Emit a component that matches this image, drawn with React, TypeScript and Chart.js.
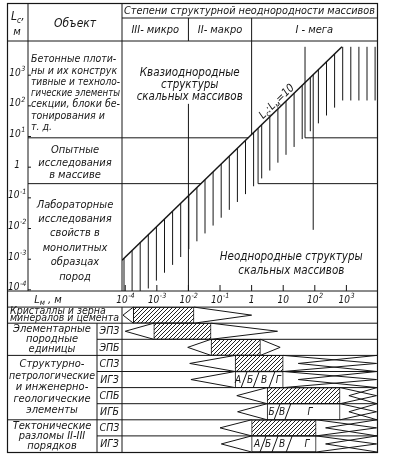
import React, { useEffect, useRef } from 'react';
import { Chart, registerables } from 'chart.js';

Chart.register(...registerables);

const W = 394;
const H = 459;
const FONT = "'DejaVu Sans Condensed', 'Liberation Sans Narrow', 'DejaVu Sans', sans-serif";
const INK = '#161616';

// ---- Lm axis (x) ----
const lmTickValues = [1e-4, 1e-3, 1e-2, 1e-1, 1, 10, 1e2, 1e3];
const lmTickLabels = ['10^-4', '10^-3', '10^-2', '10^-1', '1', '10', '10^2', '10^3'];
const lmMin = 7.9e-5;
const lmMax = 9300;

// ---- Lc axis (y) ----
const lcTickValues = [1e3, 1e2, 1e1, 1, 1e-1, 1e-2, 1e-3, 1e-4];
const lcTickLabels = ['10^3', '10^2', '10^1', '1', '10^-1', '10^-2', '10^-3', '10^-4'];
const lcMin = 7.9e-5;
const lcMax = 11200;

// ---- line Lc : Lm = 10 ----
const diagLm = [7.9e-5, 724];
const diagLc = [7.9e-4, 7240];

// ---- degrees of structural heterogeneity ----
const structureNames = ['III- микро', 'II- макро', 'I - мега'];
const structureBounds = [0.01, 1];

// ---- objects ----
const objectNames = [
  ['Бетонные плоти-', 'ны и их конструк', 'тивные и техноло-', 'гические элементы', 'секции, блоки бе-', 'тонирования и', 'т. д.'],
  ['Опытные', 'исследования', 'в массиве'],
  ['Лабораторные', 'исследования', 'свойств в', 'монолитных', 'образцах', 'пород'],
];
const objectBoundsLc = [7.8, 0.25];

// ---- extra boundary segments (Lm1, Lc1) -> (Lm2, Lc2) ----
const guideLm1 = [49, 49, 1.6, 1.6, 89];
const guideLc1 = [7240, 7.8, 16, 0.25, 890];
const guideLm2 = [49, 9300, 1.6, 9300, 89];
const guideLc2 = [7.8, 7.8, 0.25, 0.25, 0.0078];

// ---- lower table: scale ranges of rock elements ----
const rowKeys = ['Lm', 'crystal', 'EPZ', 'EPB', 'SPZ', 'IGZ', 'SPB', 'IGB', 'SPZt', 'IGZt'];
const rowCodes = ['', '', 'ЭПЗ', 'ЭПБ', 'СПЗ', 'ИГЗ', 'СПБ', 'ИГБ', 'СПЗ', 'ИГЗ'];
const rowGroup = [0, 1, 2, 2, 3, 3, 3, 3, 4, 4];
const groupTexts = [
  [],
  ['Кристаллы и зерна', 'минералов и цемента'],
  ['Элементарные', 'породные', 'единицы'],
  ['Структурно-', 'петрологические', 'и инженерно-', 'геологические', 'элементы'],
  ['Тектонические', 'разломы II-III', 'порядков'],
];
const rangeStart = [null, 1.8e-4, 8e-4, 0.052, 0.3, 0.3, 3.1, 3.1, 1, 1];
const rangeEnd = [null, 0.015, 0.052, 1.9, 10, 10, 630, 630, 110, 110];
const leftApex = [null, 8.5e-5, 1e-4, 0.0095, 0.011, 0.012, 0.34, 0.36, 0.1, 0.11];
const rightApex = [null, 1, 6.6, 8, 9000, 9000, 9000, 9000, 9000, 9000];
const backApex = [null, null, null, null, 30, 30, 1200, 1200, 220, 220];
const hatched = [false, true, true, true, true, false, true, false, true, false];
const segDividers = [[], [], [], [], [], [0.58, 1.4, 4.4], [], [6.4, 14], [], [2.3, 5.5, 15.5]];
const segLetters = [[], [], [], [], [], ['А', 'Б', 'В', 'Г'], [], ['Б', 'В', 'Г'], [], ['А', 'Б', 'В', 'Г']];
const segLetterLm = [[], [], [], [], [], [0.37, 0.9, 2.5, 7], [], [4.3, 9.2, 70], [], [1.5, 3.3, 9.2, 57]];

function makeHatch(): CanvasPattern | string {
  const s = 4;
  const c = document.createElement('canvas');
  c.width = s;
  c.height = s;
  const g = c.getContext('2d');
  if (!g) return '#bbb';
  g.fillStyle = '#fff';
  g.fillRect(0, 0, s, s);
  g.strokeStyle = '#222';
  g.lineWidth = 1;
  g.beginPath();
  g.moveTo(-1, s + 1);
  g.lineTo(s + 1, -1);
  g.moveTo(-1, 1);
  g.lineTo(1, -1);
  g.moveTo(s - 1, s + 1);
  g.lineTo(s + 1, s - 1);
  g.stroke();
  return g.createPattern(c, 'repeat') || '#bbb';
}

function setFont(ctx: CanvasRenderingContext2D, size: number) {
  ctx.font = `italic ${size}px ${FONT}`;
}

function text(ctx: CanvasRenderingContext2D, s: string, x: number, y: number, size: number, align: CanvasTextAlign = 'center', maxW?: number) {
  setFont(ctx, size);
  ctx.textAlign = align;
  ctx.textBaseline = 'middle';
  if (maxW) ctx.fillText(s, x, y, maxW);
  else ctx.fillText(s, x, y);
}

function drawPow(ctx: CanvasRenderingContext2D, label: string, cx: number, cy: number, size: number) {
  const [base, exp] = label.split('^');
  setFont(ctx, size);
  const bw = ctx.measureText(base).width;
  const es = size * 0.72;
  let ew = 0;
  if (exp) {
    setFont(ctx, es);
    ew = ctx.measureText(exp).width;
  }
  const x0 = cx - (bw + ew) / 2;
  ctx.textAlign = 'left';
  ctx.textBaseline = 'middle';
  setFont(ctx, size);
  ctx.fillText(base, x0, cy);
  if (exp) {
    setFont(ctx, es);
    ctx.fillText(exp, x0 + bw + 0.5, cy - size * 0.4);
  }
}

function drawPieces(ctx: CanvasRenderingContext2D, pieces: [string, boolean][], x: number, y: number, size: number, align: 'left' | 'center' = 'left') {
  let total = 0;
  for (const [s, sub] of pieces) {
    setFont(ctx, sub ? size * 0.7 : size);
    total += ctx.measureText(s).width;
  }
  let cx = align === 'center' ? x - total / 2 : x;
  ctx.textAlign = 'left';
  ctx.textBaseline = 'middle';
  for (const [s, sub] of pieces) {
    setFont(ctx, sub ? size * 0.7 : size);
    ctx.fillText(s, cx, sub ? y + size * 0.3 : y);
    cx += ctx.measureText(s).width;
  }
}

const lg = Math.log10;

function diagLcAt(lm: number) {
  const t = (lg(lm) - lg(diagLm[0])) / (lg(diagLm[1]) - lg(diagLm[0]));
  return Math.pow(10, lg(diagLc[0]) + t * (lg(diagLc[1]) - lg(diagLc[0])));
}
function diagLmAt(lc: number) {
  const t = (lg(lc) - lg(diagLc[0])) / (lg(diagLc[1]) - lg(diagLc[0]));
  return Math.pow(10, lg(diagLm[0]) + t * (lg(diagLm[1]) - lg(diagLm[0])));
}

const tablePlugin = {
  id: 'rockTable',
  beforeDatasetsDraw(chart: any) {
    const ctx: CanvasRenderingContext2D = chart.ctx;
    const xs = chart.scales.x;
    const yr = chart.scales.yr;
    const ca = chart.chartArea;
    const band = Math.abs(yr.getPixelForValue(1) - yr.getPixelForValue(0));
    ctx.save();
    ctx.beginPath();
    ctx.rect(ca.left, yr.top, ca.right - ca.left, yr.bottom - yr.top);
    ctx.clip();
    ctx.strokeStyle = INK;
    ctx.lineWidth = 1;
    for (let i = 0; i < rowKeys.length; i++) {
      if (rangeStart[i] == null) continue;
      const mid = yr.getPixelForValue(i);
      const top = mid - band / 2;
      const bot = mid + band / 2;
      const xs0 = xs.getPixelForValue(rangeStart[i] as number);
      const xs1 = xs.getPixelForValue(rangeEnd[i] as number);
      const la = leftApex[i];
      if (la != null) {
        ctx.beginPath();
        ctx.moveTo(xs0, top);
        ctx.lineTo(xs.getPixelForValue(la), mid);
        ctx.lineTo(xs0, bot);
        ctx.stroke();
      }
      const ra = rightApex[i];
      if (ra != null) {
        ctx.beginPath();
        ctx.moveTo(xs1, top);
        ctx.lineTo(xs.getPixelForValue(ra), mid);
        ctx.lineTo(xs1, bot);
        ctx.stroke();
      }
      const ba = backApex[i];
      if (ba != null) {
        ctx.beginPath();
        ctx.moveTo(ca.right, top);
        ctx.lineTo(xs.getPixelForValue(ba), mid);
        ctx.lineTo(ca.right, bot);
        ctx.stroke();
      }
    }
    ctx.restore();
  },
  afterDatasetsDraw(chart: any) {
    const ctx: CanvasRenderingContext2D = chart.ctx;
    const xs = chart.scales.x;
    const ys = chart.scales.y;
    const yr = chart.scales.yr;
    const ca = chart.chartArea;
    const band = Math.abs(yr.getPixelForValue(1) - yr.getPixelForValue(0));
    const rowTop = (i: number) => yr.getPixelForValue(i) - band / 2;
    const X = (v: number) => xs.getPixelForValue(v);
    const Y = (v: number) => ys.getPixelForValue(v);

    const L = 7;
    const R = ca.right;
    const T = 3;
    const colLc = 28;
    const colObj = ca.left;
    const colCode = 97;
    const headMid = 18;
    const headBot = ca.top;
    const topBot = ys.bottom;
    const B = ca.bottom;

    ctx.save();
    ctx.strokeStyle = INK;
    ctx.fillStyle = INK;
    ctx.lineWidth = 1;
    const seg = (x1: number, y1: number, x2: number, y2: number) => {
      ctx.beginPath();
      ctx.moveTo(x1, y1);
      ctx.lineTo(x2, y2);
      ctx.stroke();
    };

    // hatch fringe below the Lc:Lm line
    ctx.save();
    ctx.beginPath();
    ctx.rect(ca.left, ys.top, ca.right - ca.left, topBot - ys.top);
    ctx.clip();
    ctx.lineWidth = 1;
    for (let px = ca.left + 2; px < ca.right - 1; px += 8.1) {
      const lm = xs.getValueForPixel(px);
      const lcTop = lm <= diagLm[1] ? diagLcAt(lm) : diagLc[1];
      const y0 = Y(lcTop);
      const y1 = Math.min(Y(lcTop / Math.pow(10, 1.75)), topBot);
      seg(px, y0, px, y1);
    }
    ctx.restore();

    // outer frame
    ctx.lineWidth = 1.2;
    ctx.strokeRect(L + 0.5, T + 0.5, R - L, B - T);
    ctx.lineWidth = 1;

    // header
    seg(colObj, headMid, R, headMid);
    seg(L, headBot, R, headBot);
    seg(colLc, T, colLc, topBot);
    seg(colObj, T, colObj, topBot);
    structureBounds.forEach((b) => seg(X(b), headMid, X(b), headBot));
    seg(X(structureBounds[0]), Y(100), X(structureBounds[0]), topBot);
    seg(X(structureBounds[1]), headBot, X(structureBounds[1]), Y(diagLcAt(structureBounds[1])));

    // object bounds
    objectBoundsLc.forEach((lc) => {
      const y = Y(lc);
      seg(colLc, y, colObj, y);
      seg(ca.left, y, X(diagLmAt(lc)), y);
    });
    for (let i = 0; i < guideLm1.length; i++) {
      seg(X(guideLm1[i]), Y(guideLc1[i]), X(guideLm2[i]), Y(guideLc2[i]));
    }

    // lower table lines
    seg(L, topBot, R, topBot);
    for (let i = 1; i < rowKeys.length; i++) {
      const y = rowTop(i);
      seg(rowGroup[i] !== rowGroup[i - 1] ? L : colCode, y, R, y);
    }
    seg(colObj, rowTop(1), colObj, B);
    seg(colCode, rowTop(2), colCode, B);

    lmTickValues.forEach((v) => seg(X(v), topBot - 6, X(v), topBot));
    lcTickValues.forEach((v) => seg(colLc, Y(v) + 2, colLc + 3, Y(v) + 2));

    // header labels
    text(ctx, 'Степени структурной неоднородности массивов', (colObj + R) / 2, 11, 11, 'center', R - colObj - 4);
    const sx = [colObj, X(structureBounds[0]), X(structureBounds[1]), R];
    structureNames.forEach((n, i) => text(ctx, n, (sx[i] + sx[i + 1]) / 2, 30, 11, 'center', sx[i + 1] - sx[i] - 4));
    text(ctx, 'Объект', (colLc + colObj) / 2, 24, 12);
    drawPieces(ctx, [['L', false], ['c', true], [',', false]], 11, 17, 12);
    text(ctx, 'м', 17, 32, 11);

    lcTickValues.forEach((v, i) => drawPow(ctx, lcTickLabels[i], 17, Y(v), 10));
    const lmRowY = yr.getPixelForValue(0);
    lmTickValues.forEach((v, i) => drawPow(ctx, lmTickLabels[i], X(v), lmRowY + 1, 10));
    drawPieces(ctx, [['L', false], ['м', true], [' , м', false]], 48, lmRowY + 1, 11, 'center');

    // object texts
    const objBands = [headBot, Y(objectBoundsLc[0]), Y(objectBoundsLc[1]), topBot];
    const objSpacing = [11.3, 12.5, 14.4];
    const objShift = [4, 2, 3.5];
    objectNames.forEach((lines, k) => {
      const c = (objBands[k] + objBands[k + 1]) / 2 + objShift[k];
      const sp = objSpacing[k];
      lines.forEach((s, j) => {
        const y = c + (j - (lines.length - 1) / 2) * sp;
        if (k === 0) text(ctx, s, colLc + 3, y, 10.5, 'left', colObj - colLc - 5);
        else text(ctx, s, (colLc + colObj) / 2, y, 11, 'center', colObj - colLc - 6);
      });
    });

    // region texts
    const qx = X(0.011);
    ['Квазиоднородные', 'структуры', 'скальных массивов'].forEach((s, j) => text(ctx, s, qx, Y(1000) + j * 12, 11.5));
    const nx = X(18);
    ['Неоднородные структуры', 'скальных массивов'].forEach((s, j) => text(ctx, s, nx, Y(0.001) + j * 14, 11.5));

    // line label
    {
      const ang = Math.atan2(Y(diagLc[1]) - Y(diagLc[0]), X(diagLm[1]) - X(diagLm[0]));
      const lm = 8.5;
      const px = X(lm);
      const py = Y(diagLcAt(lm));
      ctx.save();
      ctx.translate(px + Math.sin(ang) * 6, py - Math.cos(ang) * 6);
      ctx.rotate(ang);
      drawPieces(ctx, [['L', false], ['c', true], [':', false], ['L', false], ['м', true], ['=10', false]], 0, 0, 11, 'center');
      ctx.restore();
    }

    // lower table texts
    const groupRows: number[][] = groupTexts.map(() => []);
    rowGroup.forEach((g, i) => groupRows[g].push(i));
    groupTexts.forEach((lines, g) => {
      if (!lines.length) return;
      const rows = groupRows[g];
      const top = rowTop(rows[0]);
      const bot = rowTop(rows[rows.length - 1]) + band;
      const c = (top + bot) / 2;
      const n = lines.length;
      const sp = Math.min(11.5, (bot - top - 2) / n);
      const right = g === 1 ? colObj : colCode;
      lines.forEach((s, j) => {
        const y = c + (j - (n - 1) / 2) * sp;
        if (g === 1) text(ctx, s, L + 3, y, 10.5, 'left', right - L - 6);
        else text(ctx, s, (L + right) / 2, y, 11, 'center', right - L - 4);
      });
    });
    rowCodes.forEach((code, i) => {
      if (code) text(ctx, code, (colCode + colObj) / 2, yr.getPixelForValue(i) + 0.5, 10.5);
    });

    for (let i = 0; i < rowKeys.length; i++) {
      const mid = yr.getPixelForValue(i);
      segDividers[i].forEach((v) => seg(X(v) - 3, mid + band / 2, X(v) + 3, mid - band / 2));
      segLetters[i].forEach((s, j) => text(ctx, s, X(segLetterLm[i][j]), mid + 0.5, 10));
    }

    ctx.restore();
  },
};

export default function App() {
  const ref = useRef<HTMLCanvasElement>(null);
  useEffect(() => {
    const canvas = ref.current;
    if (!canvas) return;
    const pat = makeHatch();
    const chart = new Chart(canvas, {
      type: 'bar',
      data: {
        labels: rowKeys,
        datasets: [
          {
            type: 'bar',
            label: 'Диапазоны размеров',
            indexAxis: 'y',
            xAxisID: 'x',
            yAxisID: 'yr',
            data: rangeStart.map((s, i) => (s == null ? null : [s, rangeEnd[i] as number])) as any,
            backgroundColor: rangeStart.map((_, i) => (hatched[i] ? pat : '#ffffff')),
            borderColor: INK,
            borderWidth: 1,
            borderSkipped: false,
            barPercentage: 1,
            categoryPercentage: 1,
          } as any,
          {
            type: 'line',
            label: 'Lc:Lm=10',
            xAxisID: 'x',
            yAxisID: 'y',
            data: diagLm.map((v, i) => ({ x: v, y: diagLc[i] })),
            borderColor: INK,
            borderWidth: 1.5,
            pointRadius: 0,
            fill: false,
          } as any,
        ],
      },
      options: {
        animation: false,
        responsive: false,
        events: [],
        layout: { padding: { left: 122, right: 17, top: 41, bottom: 7 } },
        plugins: { legend: { display: false }, tooltip: { enabled: false } },
        scales: {
          x: { type: 'logarithmic', position: 'bottom', min: lmMin, max: lmMax, display: false },
          y: { type: 'logarithmic', position: 'left', min: lcMin, max: lcMax, display: false, stack: 'v', stackWeight: 250, weight: 2 },
          yr: { type: 'category', position: 'left', offset: true, display: false, stack: 'v', stackWeight: 161, weight: 1 },
        },
      } as any,
      plugins: [tablePlugin],
    });
    return () => chart.destroy();
  }, []);
  return (
    <div style={{ position: 'absolute', left: 0, top: 0, width: W, height: H, background: '#fff' }}>
      <canvas ref={ref} width={W} height={H} style={{ display: 'block', width: W, height: H }} />
    </div>
  );
}
